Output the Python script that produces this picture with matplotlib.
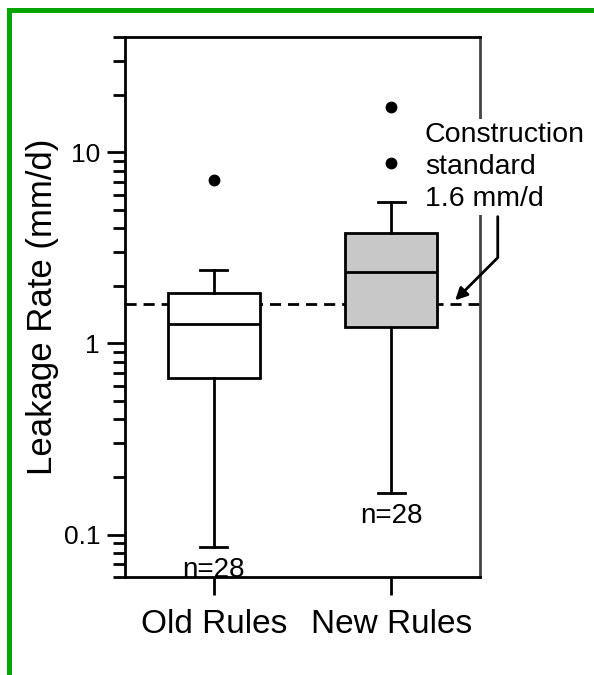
import matplotlib
matplotlib.use('Agg')
import matplotlib.pyplot as plt
from matplotlib.lines import Line2D
from matplotlib.ticker import FixedLocator, FuncFormatter, LogLocator, NullFormatter

plt.rcParams['font.family'] = ['Liberation Sans', 'DejaVu Sans']

# box summaries (mm/d)
groups = ['Old Rules', 'New Rules']
whisker_low = [0.086, 0.165]
q1 = [0.66, 1.22]
median = [1.26, 2.36]
q3 = [1.83, 3.78]
whisker_high = [2.42, 5.5]
outliers = [[7.15], [8.8, 17.3]]
sample_sizes = [28, 28]
box_fill = ['white', '#c8c8c8']
standard = 1.6  # construction standard, mm/d

stats = []
for i, name in enumerate(groups):
    stats.append(dict(label=name, whislo=whisker_low[i], q1=q1[i], med=median[i],
                      q3=q3[i], whishi=whisker_high[i], fliers=outliers[i]))

lw = 2.0

fig = plt.figure(figsize=(5.94, 6.75), dpi=100)
ax = fig.add_axes([125 / 594, 1 - 577 / 675, 355 / 594, 540 / 675])

ax.axhline(standard, color='black', lw=lw, ls=(0, (4, 2.5)), zorder=1)

positions = [1, 2]
bp = ax.bxp(stats, positions=positions, widths=0.52, patch_artist=True, capwidths=0.15,
            boxprops=dict(lw=lw, edgecolor='black'),
            medianprops=dict(color='black', lw=lw),
            whiskerprops=dict(color='black', lw=lw),
            capprops=dict(color='black', lw=lw),
            flierprops=dict(marker='o', markerfacecolor='black',
                            markeredgecolor='black', markersize=7.5))
for patch, fc in zip(bp['boxes'], box_fill):
    patch.set_facecolor(fc)

ax.set_yscale('log')
ax.set_ylim(0.06, 40)
ax.set_xlim(0.5, 2.5)
ax.yaxis.set_major_locator(FixedLocator([0.1, 1, 10]))
ax.yaxis.set_major_formatter(FuncFormatter(lambda v, p: f'{v:g}'))
ax.yaxis.set_minor_locator(LogLocator(base=10, subs=range(2, 10), numticks=20))
ax.yaxis.set_minor_formatter(NullFormatter())
ax.set_xticks(positions, groups)

ax.tick_params(axis='y', which='major', direction='out', length=13, width=lw,
               labelsize=19, pad=5)
ax.tick_params(axis='y', which='minor', direction='out', length=8.5, width=lw)
ax.tick_params(axis='x', direction='out', length=13, width=lw, labelsize=24, pad=10)
for side in ['left', 'bottom', 'top', 'right']:
    ax.spines[side].set_linewidth(lw)
ax.spines['right'].set_color('#444444')

ax.set_ylabel('Leakage Rate (mm/d)', fontsize=25)
ax.yaxis.set_label_coords(-0.186, 0.5)

# sample sizes under the lower whiskers
for pos, lo, n in zip(positions, whisker_low, sample_sizes):
    ax.annotate(f'n={n}', xy=(pos, lo), xytext=(0, -7), textcoords='offset points',
                ha='center', va='top', fontsize=20)

ax.text(0.845, 0.8426, 'Construction\nstandard\n1.6 mm/d', transform=ax.transAxes,
        ha='left', va='top', fontsize=20.5, linespacing=1.3, clip_on=False, zorder=5,
        bbox=dict(boxstyle='square,pad=0.1', fc='white', ec='none'))
ax.annotate('', xy=(2.36, standard * 1.05), xytext=(2.60, 4.6), annotation_clip=False,
            arrowprops=dict(arrowstyle='-|>', color='black', lw=lw, shrinkA=0, shrinkB=0,
                            mutation_scale=18,
                            connectionstyle='angle,angleA=90,angleB=45,rad=0'))

# green frame along the top and left edges
frame = Line2D([9.2 / 594, 9.2 / 594, 1.0], [0, 1 - 10 / 675, 1 - 10 / 675],
               transform=fig.transFigure, color='#06a506', lw=3.6,
               solid_joinstyle='miter', solid_capstyle='butt')
fig.add_artist(frame)

fig.savefig('out.png', dpi=100)
